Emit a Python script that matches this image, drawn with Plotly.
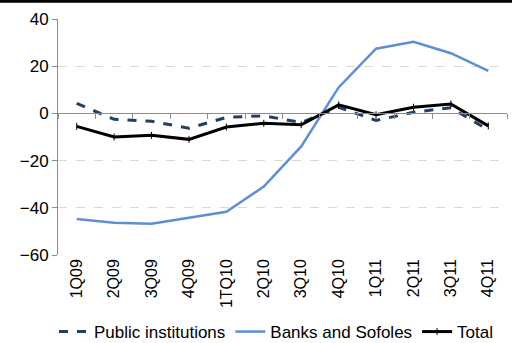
import plotly.graph_objects as go

quarters = ["1Q09", "2Q09", "3Q09", "4Q09", "1TQ10", "2Q10", "3Q10",
            "4Q10", "1Q11", "2Q11", "3Q11", "4Q11"]
public_institutions = [4.2, -2.5, -3.3, -6.3, -1.7, -1.0, -3.9, 2.6, -3.0, 0.5, 2.4, -7.0]
banks_and_sofoles = [-44.7, -46.3, -46.8, -44.3, -41.7, -31.0, -14.0, 11.0, 27.4, 30.3, 25.5, 18.0]
total = [-5.5, -10.0, -9.3, -11.0, -5.8, -4.2, -4.8, 3.6, -0.6, 2.6, 4.0, -5.3]

FONT = "Liberation Sans, Arial, sans-serif"
AXIS_GREY = "#8c8c8c"

fig = go.Figure()
fig.add_trace(go.Scatter(
    x=quarters, y=public_institutions, name="Public institutions", mode="lines",
    line=dict(color="#243F63", width=3, dash="dash"),
))
fig.add_trace(go.Scatter(
    x=quarters, y=banks_and_sofoles, name="Banks and Sofoles", mode="lines",
    line=dict(color="#5B8FD8", width=2.5),
))
fig.add_trace(go.Scatter(
    x=quarters, y=total, name="Total", mode="lines+markers",
    line=dict(color="#000000", width=3),
    marker=dict(symbol="line-ns-open", size=5, line=dict(color="#000000", width=1)),
))
# invisible carrier for the category axis drawn along the zero line
fig.add_trace(go.Scatter(
    x=quarters, y=total, xaxis="x2", mode="lines", opacity=0,
    showlegend=False, hoverinfo="skip",
))

fig.update_layout(
    width=512, height=343,
    margin=dict(l=58, r=5, t=19, b=88, autoexpand=False),
    paper_bgcolor="white", plot_bgcolor="white",
    font=dict(family=FONT, size=17, color="#000000"),
    showlegend=True,
    legend=dict(
        orientation="h", xref="container", yref="container",
        x=0.54, xanchor="center", y=0.032, yanchor="middle",
        font=dict(family=FONT, size=17), itemwidth=30,
        tracegroupgap=0,
    ),
    xaxis=dict(
        type="category", categoryorder="array", categoryarray=quarters,
        range=[-0.5, len(quarters) - 0.5], automargin=False,
        showline=False, showgrid=False, zeroline=False, ticks="",
        tickangle=-90, tickfont=dict(family=FONT, size=16),
    ),
    xaxis2=dict(
        type="category", categoryorder="array", categoryarray=quarters,
        range=[-0.5, len(quarters) - 0.5], automargin=False,
        overlaying="x", anchor="free", position=0.6,
        showline=True, linecolor=AXIS_GREY, linewidth=1,
        ticks="outside", tickson="boundaries", ticklen=5, tickcolor=AXIS_GREY,
        showticklabels=False, showgrid=False, zeroline=False,
    ),
    yaxis=dict(
        range=[-60, 40], dtick=20, automargin=False,
        showline=True, linecolor=AXIS_GREY, linewidth=1,
        ticks="outside", ticklen=5, tickcolor=AXIS_GREY,
        showgrid=True, gridcolor="#d9d9d9", griddash="dash", gridwidth=1,
        zeroline=False,
        tickfont=dict(family=FONT, size=17),
    ),
    shapes=[dict(
        type="line", xref="paper", yref="paper",
        x0=-0.2, x1=1.1, y0=1.075, y1=1.075,
        line=dict(color="#000000", width=3),
    )],
)

fig.write_html("out.html")
